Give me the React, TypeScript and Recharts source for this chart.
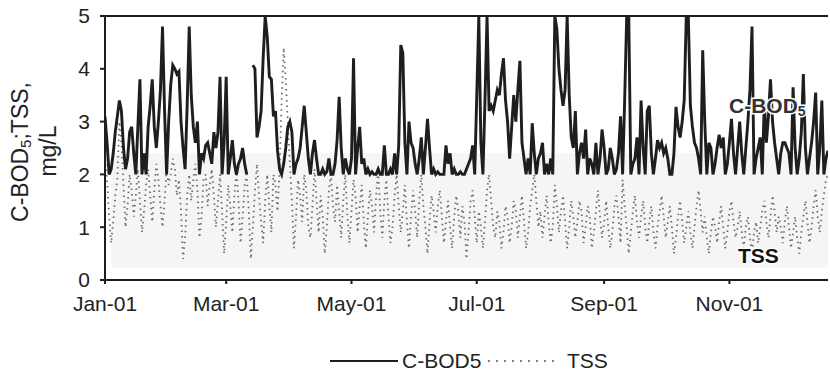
import React from "react";
import { LineChart, Line, XAxis, YAxis, ReferenceArea, ReferenceLine } from "recharts";

// daily values, Jan 1 2001 = day 0 (chart is cut off in early December)
const bod5: (number | null)[] = [
  3.1, 2.6, 2.0, 2.1, 2.4, 2.8, 3.1, 3.4, 3.2, 2.5, // d0
  2.1, 2.3, 2.8, 2.9, 2.4, 2.0, 2.9, 3.8, 2.0, 2.4, // d10
  2.0, 2.9, 3.3, 3.8, 2.9, 2.5, 3.0, 3.6, 4.8, 3.2, // d20
  2.0, 3.0, 3.7, 4.07, 4.0, 3.9, 3.95, 3.0, 2.5, 2.1, // d30
  3.3, 4.8, 3.5, 2.9, 2.6, 3.0, 2.0, 2.4, 2.3, 2.55, // d40
  2.6, 2.4, 2.2, 2.8, 2.5, 2.8, 3.85, 2.0, 2.6, 3.85, // d50
  2.0, 2.3, 2.65, 2.2, 2.0, 2.2, 2.3, 2.5, 2.2, 2.0, // d60
  null, null, 4.07, 4.0, 2.7, 2.9, 3.2, 4.2, 5.0, 4.6, // d70
  3.85, 3.8, 3.1, 3.2, 2.45, 2.1, 2.0, 2.2, 2.5, 2.9, // d80
  3.0, 2.8, 2.0, 2.2, 2.3, 2.5, 2.9, 3.3, 2.8, 2.3, // d90
  2.0, 2.4, 2.65, 2.3, 2.0, 2.0, 2.1, 2.0, 2.05, 2.3, // d100
  2.0, 2.0, 2.2, 2.65, 3.47, 2.5, 2.0, 2.3, 2.1, 2.0, // d110
  2.3, 4.2, 2.0, 2.5, 2.9, 2.2, 2.3, 2.0, 2.1, 2.0, // d120
  2.05, 2.0, 2.0, 2.1, 2.0, 2.0, 2.55, 2.0, 2.0, 2.1, // d130
  2.0, 2.4, 2.0, 2.55, 4.45, 4.3, 2.6, 2.0, 3.0, 2.6, // d140
  2.5, 2.2, 2.0, 2.3, 2.7, 2.0, 2.5, 3.05, 2.5, 2.0, // d150
  2.1, 2.0, 2.05, 2.0, 2.0, 2.0, 2.55, 2.2, 2.4, 2.0, // d160
  2.1, 2.0, 2.0, 2.05, 2.0, 2.0, 2.1, 2.2, 2.3, 2.55, // d170
  2.0, 3.5, 5.0, 2.6, 2.0, 3.4, 5.0, 3.2, 3.3, 3.2, // d180
  3.4, 3.6, 3.5, 3.9, 4.2, 3.4, 3.0, 2.3, 2.9, 3.5, // d190
  3.0, 3.6, 4.15, 2.6, 2.3, 2.0, 2.3, 2.0, 2.97, 2.4, // d200
  2.0, 2.3, 2.4, 2.6, 2.0, 2.2, 2.0, 2.3, 2.0, 5.0, // d210
  4.75, 4.0, 3.6, 3.3, 3.6, 5.0, 3.5, 2.7, 2.5, 3.2, // d220
  2.0, 2.4, 2.6, 2.3, 2.85, 2.0, 2.3, 2.2, 2.0, 2.6, // d230
  2.0, 2.3, 2.85, 2.5, 2.0, 2.1, 2.5, 2.3, 2.0, 2.1, // d240
  2.4, 3.1, 2.0, 3.4, 5.0, 5.0, 2.0, 2.2, 2.3, 2.7, // d250
  2.0, 3.4, 2.5, 2.0, 3.2, 3.3, 2.4, 2.0, 2.3, 2.65, // d260
  2.5, 2.6, 2.4, 2.5, 2.3, 2.0, 2.0, 2.4, 3.28, 2.9, // d270
  2.7, 3.0, 3.4, 5.0, 5.0, 3.3, 2.9, 2.6, 2.5, 2.3, // d280
  2.0, 4.35, 3.0, 2.0, 2.6, 2.5, 2.0, 2.2, 2.5, 2.75, // d290
  2.5, 2.7, 2.0, 2.2, 2.6, 3.05, 2.4, 2.0, 2.5, 3.0, // d300
  2.4, 2.0, 2.5, 3.0, 3.6, 4.8, 2.0, 2.3, 2.5, 2.7, // d310
  2.0, 3.4, 2.6, 3.1, 3.8, 3.0, 2.6, 2.3, 2.0, 2.4, // d320
  2.6, 2.6, 2.5, 2.4, 2.0, 3.65, 2.5, 2.0, 2.3, 2.8, // d330
  3.9, 2.5, 2.0, 2.3, 2.6, 3.0, 3.55, 2.0, 2.5, 3.4, // d340
  2.0, 2.3, 2.45,
];

const tss: number[] = [
  2.3, 1.9, 1.2, 0.7, 1.1, 1.6, 1.9, 3.0, 2.6, 1.8, // d0
  1.0, 1.4, 2.0, 1.7, 1.2, 1.6, 2.1, 1.5, 0.9, 1.3, // d10
  1.8, 2.1, 1.6, 1.1, 1.7, 2.2, 1.9, 1.4, 1.0, 1.5, // d20
  2.1, 1.8, 2.0, 2.3, 2.1, 1.6, 1.9, 1.3, 0.4, 0.8, // d30
  1.6, 2.0, 1.5, 1.9, 2.2, 1.7, 0.8, 1.2, 1.9, 2.0, // d40
  1.4, 1.8, 2.1, 1.6, 1.0, 1.5, 2.0, 1.3, 0.5, 1.1, // d50
  1.8, 1.4, 0.9, 1.6, 2.1, 1.5, 0.7, 1.2, 1.8, 2.0, // d60
  1.3, 0.4, 1.0, 1.7, 2.2, 1.6, 1.1, 0.7, 1.5, 2.0, // d70
  1.4, 0.9, 2.0, 1.8, 1.3, 2.1, 3.4, 4.4, 3.8, 3.0, // d80
  2.2, 1.5, 0.6, 1.2, 1.9, 1.6, 1.1, 2.0, 1.7, 1.0, // d90
  0.8, 1.4, 2.1, 1.5, 0.9, 1.6, 1.2, 0.5, 1.0, 1.7, // d100
  2.0, 1.4, 1.1, 1.8, 1.3, 0.8, 1.5, 2.0, 1.2, 0.7, // d110
  1.3, 1.9, 1.6, 0.9, 1.4, 1.8, 1.1, 0.6, 1.2, 1.7, // d120
  1.4, 0.9, 1.6, 2.1, 1.3, 0.8, 1.5, 1.9, 1.2, 0.7, // d130
  1.0, 1.6, 2.0, 1.4, 0.9, 1.3, 1.8, 1.1, 0.6, 1.2, // d140
  1.7, 1.3, 0.8, 1.5, 2.0, 1.4, 1.0, 0.5, 1.1, 1.6, // d150
  1.3, 0.9, 1.4, 1.7, 1.2, 0.7, 1.1, 1.5, 1.0, 0.6, // d160
  1.2, 1.6, 1.3, 0.8, 1.4, 1.1, 0.4, 0.9, 1.5, 1.7, // d170
  1.2, 0.7, 1.3, 1.0, 0.6, 1.1, 1.7, 2.0, 1.5, 1.0, // d180
  0.8, 1.3, 1.1, 0.6, 0.9, 1.4, 1.2, 0.7, 1.0, 1.5, // d190
  1.3, 0.8, 1.2, 1.6, 1.1, 0.6, 0.9, 1.4, 1.7, 2.0, // d200
  1.5, 1.0, 1.3, 0.8, 1.2, 1.6, 1.1, 0.7, 1.0, 1.8, // d210
  1.4, 0.9, 1.3, 1.6, 1.1, 0.6, 1.0, 1.5, 1.2, 0.8, // d220
  1.1, 1.5, 1.3, 0.7, 1.0, 1.4, 1.2, 0.6, 0.9, 1.3, // d230
  1.7, 1.2, 0.8, 1.1, 1.5, 1.0, 0.6, 0.9, 1.4, 1.6, // d240
  1.2, 0.7, 1.9, 1.4, 1.0, 0.5, 0.9, 1.3, 1.6, 1.1, // d250
  0.8, 1.2, 1.5, 1.0, 0.7, 1.1, 1.4, 0.9, 0.6, 1.0, // d260
  1.3, 1.6, 1.2, 0.8, 1.1, 1.4, 1.0, 0.5, 0.8, 1.2, // d270
  1.5, 1.1, 0.7, 1.0, 1.3, 0.9, 0.6, 1.0, 1.4, 1.7, // d280
  1.3, 0.9, 1.2, 0.8, 0.5, 0.9, 1.2, 1.0, 0.7, 1.1, // d290
  1.4, 1.0, 0.6, 0.9, 1.3, 1.5, 1.1, 0.8, 1.0, 1.3, // d300
  0.9, 0.6, 1.0, 1.2, 0.8, 0.5, 0.9, 1.1, 0.7, 1.0, // d310
  1.3, 1.5, 1.1, 0.8, 1.2, 1.6, 1.3, 0.9, 1.2, 1.0, // d320
  0.7, 1.1, 1.4, 1.0, 0.6, 0.9, 1.2, 0.8, 0.5, 0.9, // d330
  1.2, 1.5, 1.1, 0.7, 1.0, 1.4, 1.7, 1.2, 0.9, 1.3, // d340
  1.6, 1.9, 2.0,
];

const monthTicks = [0, 59, 120, 181, 243, 304];
const monthLabels = ["Jan-01", "Mar-01", "May-01", "Jul-01", "Sep-01", "Nov-01"];
const yTicks = [0, 1, 2, 3, 4, 5];

const FONT = '"Liberation Sans", Arial, sans-serif';
const INK = "#1e1e1e";

const data = bod5.map((v, i) => ({ day: i, bod: v, tss: tss[i] }));

export default function App() {
  return (
    <div
      style={{
        position: "absolute",
        left: 0,
        top: 0,
        width: 830,
        height: 381,
        background: "#fff",
        fontFamily: FONT,
      }}
    >
      <LineChart
        width={830}
        height={381}
        data={data}
        margin={{ top: 16, right: 2, bottom: 61, left: 0 }}
      >
        {/* faint grey patch from the scan */}
        <ReferenceArea x1={3} x2={352} y1={0.23} y2={2.4} fill="#f5f5f5" fillOpacity={1} stroke="none" />
        <XAxis
          dataKey="day"
          type="number"
          domain={[0, 352]}
          ticks={monthTicks}
          tickFormatter={(v: number) => monthLabels[monthTicks.indexOf(v)]}
          height={40}
          stroke={INK}
          strokeWidth={2}
          tickSize={4}
          tickMargin={12}
          tick={{ fontSize: 21, fill: "#222", fontFamily: FONT }}
          allowDataOverflow
        />
        <YAxis
          type="number"
          domain={[0, 5]}
          ticks={yTicks}
          width={105}
          stroke={INK}
          strokeWidth={2}
          tickSize={5}
          tickMargin={10}
          tick={{ fontSize: 21, fill: "#222", fontFamily: FONT }}
          allowDataOverflow
        />
        <ReferenceLine y={5} stroke={INK} strokeWidth={2} />
        <Line
          type="linear"
          dataKey="tss"
          stroke="#6a6a6a"
          strokeWidth={1.8}
          strokeDasharray="1.5 4"
          dot={false}
          isAnimationActive={false}
        />
        <Line
          type="linear"
          dataKey="bod"
          stroke={INK}
          strokeWidth={2.9}
          dot={false}
          connectNulls={false}
          isAnimationActive={false}
        />
      </LineChart>

      <svg
        width={830}
        height={381}
        style={{ position: "absolute", left: 0, top: 0, pointerEvents: "none" }}
        fontFamily={FONT}
      >
        {/* y axis title */}
        <text
          x={20}
          y={152}
          transform="rotate(-90 20 152)"
          textAnchor="middle"
          dominantBaseline="central"
          fontSize={23}
          fill="#222"
        >
          C-BOD<tspan fontSize={15} dy={5}>5</tspan>
          <tspan dy={-5}>;TSS,</tspan>
        </text>
        <text
          x={48}
          y={151}
          transform="rotate(-90 48 151)"
          textAnchor="middle"
          dominantBaseline="central"
          fontSize={23}
          fill="#222"
        >
          mg/L
        </text>

        {/* in-plot series labels */}
        <text
          x={729}
          y={113}
          fontSize={21}
          fontWeight="bold"
          fill="#333"
          stroke="#fff"
          strokeWidth={3}
          paintOrder="stroke"
        >
          C-BOD<tspan fontSize={14} dy={3}>5</tspan>
        </text>
        <text
          x={738}
          y={263}
          fontSize={21}
          fontWeight="bold"
          fill="#111"
          stroke="#fff"
          strokeWidth={3}
          paintOrder="stroke"
        >
          TSS
        </text>

        {/* legend */}
        <line x1={330} y1={361} x2={398} y2={361} stroke={INK} strokeWidth={2} />
        <text x={402} y={368} fontSize={21} fill="#222">
          C-BOD5
        </text>
        <line x1={488} y1={361} x2={556} y2={361} stroke="#555" strokeWidth={1.6} strokeDasharray="2 6" />
        <text x={567} y={368} fontSize={21} fill="#222">
          TSS
        </text>
      </svg>
    </div>
  );
}
